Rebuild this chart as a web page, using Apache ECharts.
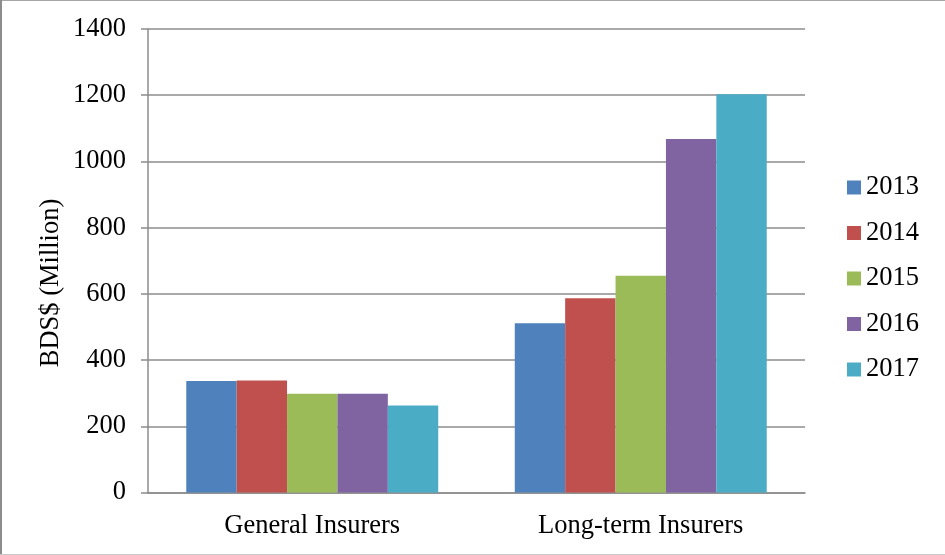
<!DOCTYPE html>
<html>
<head>
<meta charset="utf-8">
<script src="https://cdn.jsdelivr.net/npm/echarts@6/dist/echarts.min.js"></script>
<style>
  html, body { margin: 0; padding: 0; background: #fff; }
  #chart { width: 945px; height: 555px; }
</style>
</head>
<body>
<div id="chart"></div>
<script>
// Insurance sector business (BDS$ million) by insurer type and year
const categories = ['General Insurers', 'Long-term Insurers'];
const years = ['2013', '2014', '2015', '2016', '2017'];
const values2013 = [337, 511];
const values2014 = [338, 587];
const values2015 = [298, 655];
const values2016 = [298, 1068];
const values2017 = [263, 1203];
const yTicks = [0, 200, 400, 600, 800, 1000, 1200, 1400];

const seriesValues = [values2013, values2014, values2015, values2016, values2017];
const colors = ['#4F81BD', '#C0504D', '#9BBB59', '#8064A2', '#4BACC6'];
const FONT = '"Liberation Serif", "Times New Roman", serif';
const FS = 26.5;

const chart = echarts.init(document.getElementById('chart'), null, { renderer: 'canvas' });

chart.setOption({
  animation: false,
  backgroundColor: '#ffffff',
  color: colors,
  grid: { left: 148, right: 140, top: 29, bottom: 62.5, containLabel: false },
  legend: {
    orient: 'vertical',
    left: 847,
    top: 174,
    padding: 0,
    itemWidth: 14,
    itemHeight: 14,
    itemGap: 18.5,
    icon: 'rect',
    data: years,
    textStyle: { fontFamily: FONT, fontSize: FS, color: '#000', lineHeight: 25 }
  },
  xAxis: {
    type: 'category',
    data: categories,
    axisLine: { show: true, lineStyle: { color: '#8c8c8c', width: 1.5 } },
    axisTick: { show: false },
    axisLabel: { fontFamily: FONT, fontSize: FS, color: '#000', margin: 20 }
  },
  yAxis: {
    type: 'value',
    min: yTicks[0],
    max: yTicks[yTicks.length - 1],
    interval: 200,
    axisLine: { show: true, lineStyle: { color: '#8c8c8c', width: 1.5 } },
    axisTick: { show: true, inside: false, length: 7, lineStyle: { color: '#8c8c8c', width: 1.5 } },
    splitLine: { show: true, lineStyle: { color: '#8c8c8c', width: 1.5 } },
    axisLabel: {
      fontFamily: FONT, fontSize: FS, color: '#000', margin: 22,
      formatter: v => String(v)
    }
  },
  series: years.map((y, i) => ({
    name: y,
    type: 'bar',
    data: seriesValues[i],
    barGap: '0%',
    barCategoryGap: '23.3%',
    itemStyle: { color: colors[i] }
  })),
  graphic: [
    {
      type: 'text',
      rotation: Math.PI / 2,
      x: 51,
      y: 283,
      style: {
        text: 'BDS$ (Million)',
        font: FS + 'px ' + FONT,
        fill: '#000',
        align: 'center',
        verticalAlign: 'middle'
      }
    },
    // outer frame of the chart area
    { type: 'rect', shape: { x: 0, y: 0, width: 945, height: 1 }, style: { fill: '#a6a6a6' } },
    { type: 'rect', shape: { x: 0, y: 0, width: 2, height: 555 }, style: { fill: '#8c8c8c' } },
    { type: 'rect', shape: { x: 0, y: 554, width: 945, height: 1 }, style: { fill: '#c8c8c8' } }
  ]
});
</script>
</body>
</html>
